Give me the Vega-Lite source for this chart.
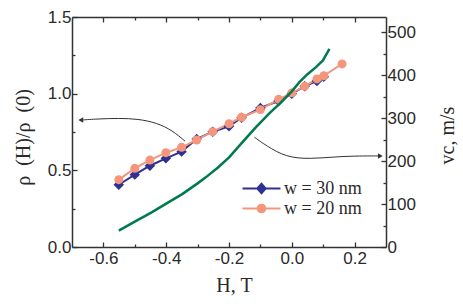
{
  "$schema": "https://vega.github.io/schema/vega-lite/v6.json",
  "width": 314,
  "height": 230,
  "autosize": "none",
  "padding": {"left": 72, "top": 17, "right": 77, "bottom": 57},
  "background": "white",
  "config": {
    "view": {"stroke": null},
    "axis": {
      "labelFont": "Liberation Sans",
      "labelFontSize": 17,
      "labelColor": "#2a2a2a",
      "titleFont": "Liberation Serif",
      "titleFontSize": 20,
      "titleFontWeight": "normal",
      "titleColor": "#2a2a2a",
      "domainColor": "#333333",
      "domainWidth": 1.5,
      "tickColor": "#333333",
      "tickWidth": 1.3,
      "grid": false
    }
  },
  "datasets": {
    "rho": [
      {"H": -0.551, "rho": 0.406, "series": "w = 30 nm"},
      {"H": -0.500, "rho": 0.472, "series": "w = 30 nm"},
      {"H": -0.452, "rho": 0.530, "series": "w = 30 nm"},
      {"H": -0.401, "rho": 0.578, "series": "w = 30 nm"},
      {"H": -0.351, "rho": 0.622, "series": "w = 30 nm"},
      {"H": -0.303, "rho": 0.704, "series": "w = 30 nm"},
      {"H": -0.252, "rho": 0.752, "series": "w = 30 nm"},
      {"H": -0.200, "rho": 0.787, "series": "w = 30 nm"},
      {"H": -0.160, "rho": 0.843, "series": "w = 30 nm"},
      {"H": -0.100, "rho": 0.907, "series": "w = 30 nm"},
      {"H": -0.042, "rho": 0.952, "series": "w = 30 nm"},
      {"H": 0.000, "rho": 1.000, "series": "w = 30 nm"},
      {"H": 0.041, "rho": 1.048, "series": "w = 30 nm"},
      {"H": 0.080, "rho": 1.083, "series": "w = 30 nm"},
      {"H": 0.102, "rho": 1.111, "series": "w = 30 nm"},
      {"H": -0.551, "rho": 0.439, "series": "w = 20 nm"},
      {"H": -0.500, "rho": 0.513, "series": "w = 20 nm"},
      {"H": -0.452, "rho": 0.567, "series": "w = 20 nm"},
      {"H": -0.401, "rho": 0.615, "series": "w = 20 nm"},
      {"H": -0.351, "rho": 0.650, "series": "w = 20 nm"},
      {"H": -0.303, "rho": 0.698, "series": "w = 20 nm"},
      {"H": -0.252, "rho": 0.752, "series": "w = 20 nm"},
      {"H": -0.200, "rho": 0.804, "series": "w = 20 nm"},
      {"H": -0.160, "rho": 0.846, "series": "w = 20 nm"},
      {"H": -0.100, "rho": 0.896, "series": "w = 20 nm"},
      {"H": -0.042, "rho": 0.963, "series": "w = 20 nm"},
      {"H": 0.000, "rho": 1.005, "series": "w = 20 nm"},
      {"H": 0.041, "rho": 1.048, "series": "w = 20 nm"},
      {"H": 0.080, "rho": 1.096, "series": "w = 20 nm"},
      {"H": 0.102, "rho": 1.117, "series": "w = 20 nm"},
      {"H": 0.160, "rho": 1.194, "series": "w = 20 nm"}
    ],
    "vc": [
      {"H": -0.551, "vc": 38},
      {"H": -0.500, "vc": 59},
      {"H": -0.445, "vc": 81},
      {"H": -0.400, "vc": 101},
      {"H": -0.349, "vc": 123},
      {"H": -0.300, "vc": 148},
      {"H": -0.274, "vc": 162},
      {"H": -0.235, "vc": 185},
      {"H": -0.199, "vc": 209},
      {"H": -0.157, "vc": 244},
      {"H": -0.114, "vc": 279},
      {"H": -0.070, "vc": 312},
      {"H": -0.039, "vc": 333},
      {"H": 0.000, "vc": 362},
      {"H": 0.025, "vc": 384},
      {"H": 0.050, "vc": 402},
      {"H": 0.078, "vc": 419},
      {"H": 0.099, "vc": 434},
      {"H": 0.120, "vc": 461}
    ],
    "arrows": [
      {"H": -0.340, "y": 0.690, "arrow": "left", "k": 1},
      {"H": -0.380, "y": 0.760, "arrow": "left", "k": 2},
      {"H": -0.430, "y": 0.810, "arrow": "left", "k": 3},
      {"H": -0.490, "y": 0.835, "arrow": "left", "k": 4},
      {"H": -0.550, "y": 0.840, "arrow": "left", "k": 5},
      {"H": -0.620, "y": 0.835, "arrow": "left", "k": 6},
      {"H": -0.672, "y": 0.828, "arrow": "left", "k": 7},
      {"H": -0.119, "y": 0.716, "arrow": "right", "k": 1},
      {"H": -0.082, "y": 0.661, "arrow": "right", "k": 2},
      {"H": -0.018, "y": 0.585, "arrow": "right", "k": 3},
      {"H": 0.057, "y": 0.574, "arrow": "right", "k": 4},
      {"H": 0.142, "y": 0.589, "arrow": "right", "k": 5},
      {"H": 0.217, "y": 0.594, "arrow": "right", "k": 6},
      {"H": 0.282, "y": 0.594, "arrow": "right", "k": 7}
    ],
    "heads": [
      {"H": -0.672, "y": 0.828, "shape": "triangle-left"},
      {"H": 0.282, "y": 0.594, "shape": "triangle-right"}
    ]
  },
  "resolve": {
    "scale": {"y": "independent", "color": "independent", "shape": "independent"},
    "axis": {"x": "independent", "y": "independent"}
  },
  "layer": [
    {
      "data": {"name": "rho"},
      "mark": {"type": "line", "strokeWidth": 2},
      "encoding": {
        "x": {"field": "H", "type": "quantitative",
              "scale": {"domain": [-0.7, 0.3], "nice": false, "zero": false},
              "axis": {"orient": "bottom", "values": [-0.6, -0.4, -0.2, 0, 0.2], "tickSize": -5, "labelPadding": 8,
                       "labelExpr": "replace(format(datum.value, '.1f'), '\u2212', '-')",
                       "title": "H, T", "titleX": 162, "titleY": 38, "titleBaseline": "middle", "titleAlign": "center"}},
        "y": {"field": "rho", "type": "quantitative",
              "scale": {"domain": [0, 1.5], "nice": false, "zero": false},
              "axis": {"orient": "left", "values": [0, 0.5, 1, 1.5], "tickSize": -5, "labelPadding": 6,
                       "format": ".1f", "title": "ρ\u2002(H)/ρ\u2002(0)", "titleX": -49, "titleY": 120,
                       "titleAngle": -90, "titleBaseline": "middle", "titleAlign": "center"}},
        "color": {"field": "series", "type": "nominal",
                  "scale": {"domain": ["w = 30 nm", "w = 20 nm"], "range": ["#2e3192", "#f5967c"]},
                  "legend": null}
      }
    },
    {
      "data": {"name": "rho"},
      "transform": [{"filter": "datum.series == 'w = 30 nm'"}],
      "mark": {"type": "point", "shape": "diamond", "filled": true, "size": 110, "opacity": 1, "color": "#2e3192"},
      "encoding": {
        "x": {"field": "H", "type": "quantitative", "scale": {"domain": [-0.7, 0.3], "nice": false, "zero": false}, "axis": null},
        "y": {"field": "rho", "type": "quantitative", "scale": {"domain": [0, 1.5], "nice": false, "zero": false}, "axis": null}
      }
    },
    {
      "data": {"name": "rho"},
      "transform": [{"filter": "datum.series == 'w = 20 nm'"}],
      "mark": {"type": "point", "shape": "circle", "filled": true, "size": 80, "opacity": 1, "color": "#f5967c"},
      "encoding": {
        "x": {"field": "H", "type": "quantitative", "scale": {"domain": [-0.7, 0.3], "nice": false, "zero": false}, "axis": null},
        "y": {"field": "rho", "type": "quantitative", "scale": {"domain": [0, 1.5], "nice": false, "zero": false}, "axis": null}
      }
    },
    {
      "data": {"name": "vc"},
      "mark": {"type": "line", "strokeWidth": 2.5, "color": "#007a4d"},
      "encoding": {
        "x": {"field": "H", "type": "quantitative",
              "scale": {"domain": [-0.7, 0.3], "nice": false, "zero": false},
              "axis": {"orient": "top", "values": [-0.6, -0.4, -0.2, 0, 0.2], "tickSize": -5, "labels": false, "title": null}},
        "y": {"field": "vc", "type": "quantitative",
              "scale": {"domain": [0, 535], "nice": false, "zero": false},
              "axis": {"orient": "right", "values": [0, 100, 200, 300, 400, 500], "tickSize": -5, "labelPadding": 6,
                       "title": "vc, m/s", "titleAngle": -90, "titleX": 61, "titleY": 118,
                       "titleBaseline": "middle", "titleAlign": "center"}}
      }
    },
    {
      "data": {"name": "arrows"},
      "mark": {"type": "line", "strokeWidth": 1, "color": "#333333", "interpolate": "basis"},
      "encoding": {
        "x": {"field": "H", "type": "quantitative",
              "scale": {"domain": [-0.7, 0.3], "nice": false, "zero": false},
              "axis": {"orient": "bottom", "values": [-0.5, -0.3, -0.1, 0.1], "tickSize": -3, "labels": false, "domain": false, "title": null}},
        "y": {"field": "y", "type": "quantitative",
              "scale": {"domain": [0, 1.5], "nice": false, "zero": false},
              "axis": {"orient": "left", "values": [0.25, 0.75, 1.25], "tickSize": -3, "labels": false, "domain": false, "title": null}},
        "detail": {"field": "arrow"},
        "order": {"field": "k", "type": "quantitative"}
      }
    },
    {
      "data": {"name": "heads"},
      "mark": {"type": "point", "filled": true, "size": 30, "color": "#333333", "opacity": 1},
      "encoding": {
        "x": {"field": "H", "type": "quantitative",
              "scale": {"domain": [-0.7, 0.3], "nice": false, "zero": false},
              "axis": {"orient": "top", "values": [-0.5, -0.3, -0.1, 0.1], "tickSize": -3, "labels": false, "domain": false, "title": null}},
        "y": {"field": "y", "type": "quantitative", "scale": {"domain": [0, 1.5], "nice": false, "zero": false}, "axis": null},
        "shape": {"field": "shape", "type": "nominal", "scale": null}
      }
    },
    {
      "data": {"name": "vc"},
      "mark": {"type": "point", "opacity": 0},
      "encoding": {
        "x": {"field": "H", "type": "quantitative", "scale": {"domain": [-0.7, 0.3], "nice": false, "zero": false}, "axis": null},
        "y": {"field": "vc", "type": "quantitative",
              "scale": {"domain": [0, 535], "nice": false, "zero": false},
              "axis": {"orient": "right", "values": [50, 150, 250, 350, 450], "tickSize": -3, "labels": false, "domain": false, "title": null}}
      }
    },
    {
      "data": {"name": "rho"},
      "mark": {"type": "point", "filled": false, "opacity": 0, "strokeWidth": 2},
      "encoding": {
        "x": {"field": "H", "type": "quantitative", "scale": {"domain": [-0.7, 0.3], "nice": false, "zero": false}, "axis": null},
        "y": {"field": "rho", "type": "quantitative", "scale": {"domain": [0, 1.5], "nice": false, "zero": false}, "axis": null},
        "color": {"field": "series", "type": "nominal",
                  "scale": {"domain": ["w = 30 nm", "w = 20 nm"], "range": ["#2e3192", "#f5967c"]},
                  "legend": {"orient": "none", "legendX": 179, "legendY": 161, "title": null, "padding": 0,
                             "symbolOpacity": 1, "symbolSize": 361, "symbolStrokeWidth": 2, "rowPadding": 0,
                             "labelFont": "Liberation Serif", "labelFontSize": 18, "labelColor": "#2a2a2a", "labelOffset": 12}},
        "shape": {"field": "series", "type": "nominal",
                  "scale": {"domain": ["w = 30 nm", "w = 20 nm"],
                            "range": ["M-2,0H2M-0.44,0L0,-0.5L0.44,0L0,0.5ZM-0.2,0L0,-0.24L0.2,0L0,0.24Z",
                                      "M-2,0H2M0.4,0A0.4,0.4,0,1,1,-0.4,0A0.4,0.4,0,1,1,0.4,0ZM0.2,0A0.2,0.2,0,1,1,-0.2,0A0.2,0.2,0,1,1,0.2,0Z"]},
                  "legend": {"orient": "none", "legendX": 179, "legendY": 161, "title": null, "padding": 0,
                             "symbolOpacity": 1, "symbolSize": 361, "symbolStrokeWidth": 2, "rowPadding": 0,
                             "labelFont": "Liberation Serif", "labelFontSize": 18, "labelColor": "#2a2a2a", "labelOffset": 12}}
      }
    }
  ]
}
